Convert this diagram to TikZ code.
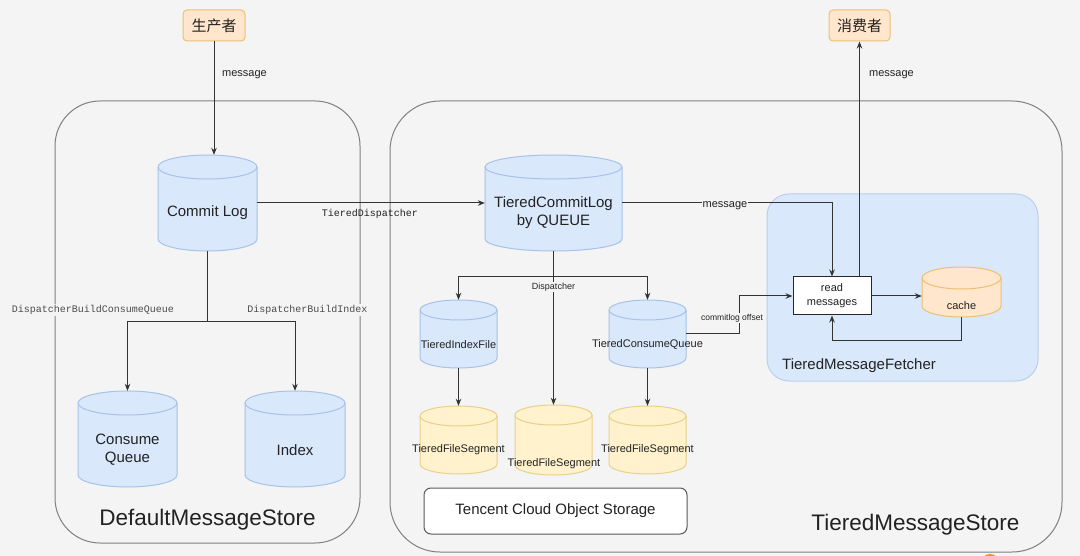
\documentclass[tikz,border=0pt]{standalone}
\usepackage{fontspec}
\setmainfont{Liberation Sans}
\newfontfamily\cjkf{Noto Sans CJK SC}
\newfontfamily\monof{Liberation Mono}
\usetikzlibrary{arrows.meta,calc}
\definecolor{bgc}{HTML}{F4F4F4}
\definecolor{bluef}{HTML}{DAE8FC}
\definecolor{blued}{HTML}{A6C2E8}
\definecolor{fetchd}{HTML}{B8CFEE}
\definecolor{yelf}{HTML}{FFF2CC}
\definecolor{yeld}{HTML}{E8D08A}
\definecolor{oraf}{HTML}{FFE6CC}
\definecolor{orad}{HTML}{EEBF72}
\definecolor{linec}{HTML}{333333}
\definecolor{txtc}{HTML}{222222}
\newcommand\fsz[2]{\fontsize{#1}{#2}\selectfont}
\newcommand\dbcyl[8]{%
  \node[inner sep=0pt, minimum width=#4pt, minimum height=#5pt] (#1) at (#2,{-(#3)-(#5)/2}) {};
  \filldraw[fill=#7, draw=#8, line width=1pt] ({#2-#4/2},{-(#3)-(#6)}) -- ({#2-#4/2},{-(#3)-(#5)+(#6)}) arc[start angle=180,end angle=360,x radius=#4/2,y radius=#6] -- ({#2+#4/2},{-(#3)-(#6)}) arc[start angle=0,end angle=180,x radius=#4/2,y radius=#6] -- cycle;
  \draw[draw=#8, line width=1pt] ({#2-#4/2},{-(#3)-(#6)}) arc[start angle=180,end angle=360,x radius=#4/2,y radius=#6];
}
\begin{document}
\begin{tikzpicture}[x=1pt,y=1pt,
  arr/.style={draw=linec, line width=1pt, -{Stealth[length=7pt,width=5.5pt]}},
  plain/.style={draw=linec, line width=1pt},
  lbl/.style={text=txtc, inner sep=1pt},
  bglbl/.style={text=txtc, inner sep=1pt, fill=bgc},
  cont/.style={draw=black!50, line width=1pt},
  person/.style={draw=orad, fill=oraf, rounded corners=4pt, line width=1pt, inner sep=0pt, text=txtc, font=\cjkf\fsz{15}{18}},
]
\fill[bgc] (0,0) rectangle (1080,-556);
\useasboundingbox (0,0) rectangle (1080,-556);

% containers
\node[cont, rounded corners=45pt, minimum width=305pt, minimum height=442pt, inner sep=0pt] (dms) at (207.5,-322) {};
\node[cont, rounded corners=50pt, minimum width=672pt, minimum height=451pt, inner sep=0pt] (tms) at (726,-326.5) {};
\node[draw=fetchd, fill=bluef, line width=1pt, rounded corners=22pt, minimum width=271pt, minimum height=187pt, inner sep=0pt] (fetch) at (902.5,-287.5) {};
\node[draw=black!65, fill=white, line width=1pt, rounded corners=7pt, minimum width=263pt, minimum height=46pt, inner sep=0pt, text=txtc, font=\fsz{15}{18}] (cos) at (555.5,-511) {Tencent Cloud Object Storage};

\node[lbl, font=\fsz{22.5}{26}] (dmsl) at (207.5,-520) {DefaultMessageStore};
\node[lbl, font=\fsz{22.5}{26}] (tmsl) at (915.5,-525) {TieredMessageStore};
\node[lbl, font=\fsz{15}{18}, anchor=west] (fetchl) at (781,-366) {TieredMessageFetcher};

% producer / consumer
\node[person, minimum width=62pt, minimum height=31pt] (prod) at (214,-25.5) {生产者};
\node[person, minimum width=61pt, minimum height=31pt] (cons) at (859.5,-25.5) {消费者};

% cylinders
\dbcyl{cl}{207.5}{155}{99}{96}{12}{bluef}{blued}
\dbcyl{cq}{127.5}{391}{99}{96}{12}{bluef}{blued}
\dbcyl{idx}{295}{391}{100}{96}{12}{bluef}{blued}
\dbcyl{tcl}{553.5}{155}{137}{96}{12}{bluef}{blued}
\dbcyl{tif}{458.5}{300}{77}{68}{10}{bluef}{blued}
\dbcyl{tcq}{647.5}{300}{77}{68}{10}{bluef}{blued}
\dbcyl{fsa}{458.5}{406}{77}{68}{10}{yelf}{yeld}
\dbcyl{fsb}{553.5}{405}{77}{70}{10}{yelf}{yeld}
\dbcyl{fsc}{647.5}{406}{77}{68}{10}{yelf}{yeld}
\dbcyl{cache}{961.5}{267}{79}{50}{11}{oraf}{orad}

\node[lbl, font=\fsz{15}{18}] at (207.5,-213) {Commit Log};
\node[lbl, font=\fsz{15}{18}, align=center] at (127.5,-450) {Consume\\Queue};
\node[lbl, font=\fsz{15}{18}] at (295,-450) {Index};
\node[lbl, font=\fsz{15}{18}, align=center] at (553.5,-213) {TieredCommitLog\\by QUEUE};
\node[lbl, font=\fsz{11}{13}] at (458.5,-345) {TieredIndexFile};
\node[lbl, font=\fsz{11}{13}] at (647.5,-345) {TieredConsumeQueue};
\node[lbl, font=\fsz{11}{13}] at (458.5,-450) {TieredFileSegment};
\node[lbl, font=\fsz{11}{13}] at (554,-464) {TieredFileSegment};
\node[lbl, font=\fsz{11}{13}] at (647.5,-450) {TieredFileSegment};
\node[lbl, font=\fsz{11}{13}] at (961.5,-306) {cache};

% read messages
\node[draw=black!85, fill=white, line width=1pt, minimum width=78pt, minimum height=38pt, inner sep=0pt, align=center, text=txtc, font=\fsz{11}{14}] (rm) at (832,-296) {read\\messages};

% connectors
\draw[arr] (prod.south) -- (prod.south |- cl.north);
\node[lbl, font=\fsz{11}{13}, anchor=west] at (221,-75) {message};

\draw[arr] (cl.east) -- (tcl.west);
\node[lbl, font=\monof\fsz{10}{12}] at (370,-214) {TieredDispatcher};

\draw[arr] (tcl.east) -| (rm.north);
\node[bglbl, font=\fsz{11}{13}] at (725,-206) {message};

\draw[arr] (rm.north -| cons.south) -- (cons.south);
\node[lbl, font=\fsz{11}{13}, anchor=west] at (868,-75) {message};

\draw[arr] (rm.east) -- (rm.east -| cache.west);
\draw[arr] (cache.south) -- ++(0,-23) -| (rm.south);

\path (tcq.east) ++(53,0) coordinate (cob);
\draw[arr] (tcq.east) -- (cob) |- (rm.west);
\node[bglbl, font=\fsz{8.5}{10}] at (732,-318) {commitlog offset};

\path (tcl.south) ++(0,-25) coordinate (dsp);
\draw[arr] (tcl.south) -- (fsb.north);
\draw[arr] (dsp) -| (tif.north);
\draw[arr] (dsp) -| (tcq.north);
\node[bglbl, font=\fsz{9}{11}] at (553.5,-287) {Dispatcher};

\draw[arr] (tif.south) -- (fsa.north);
\draw[arr] (tcq.south) -- (fsc.north);

\path (cl.south) ++(0,-70) coordinate (lsp);
\draw[plain] (cl.south) -- (lsp);
\draw[arr] (lsp) -| (cq.north);
\draw[arr] (lsp) -| (idx.north);
\node[bglbl, font=\monof\fsz{10}{12}, text=black!70] at (93,-310) {DispatcherBuildConsumeQueue};
\node[bglbl, font=\monof\fsz{10}{12}, text=black!70] at (307.5,-310) {DispatcherBuildIndex};

% orange mark at bottom edge
\fill[orange!85!yellow] (990,-563) circle (9);
\end{tikzpicture}
\end{document}
